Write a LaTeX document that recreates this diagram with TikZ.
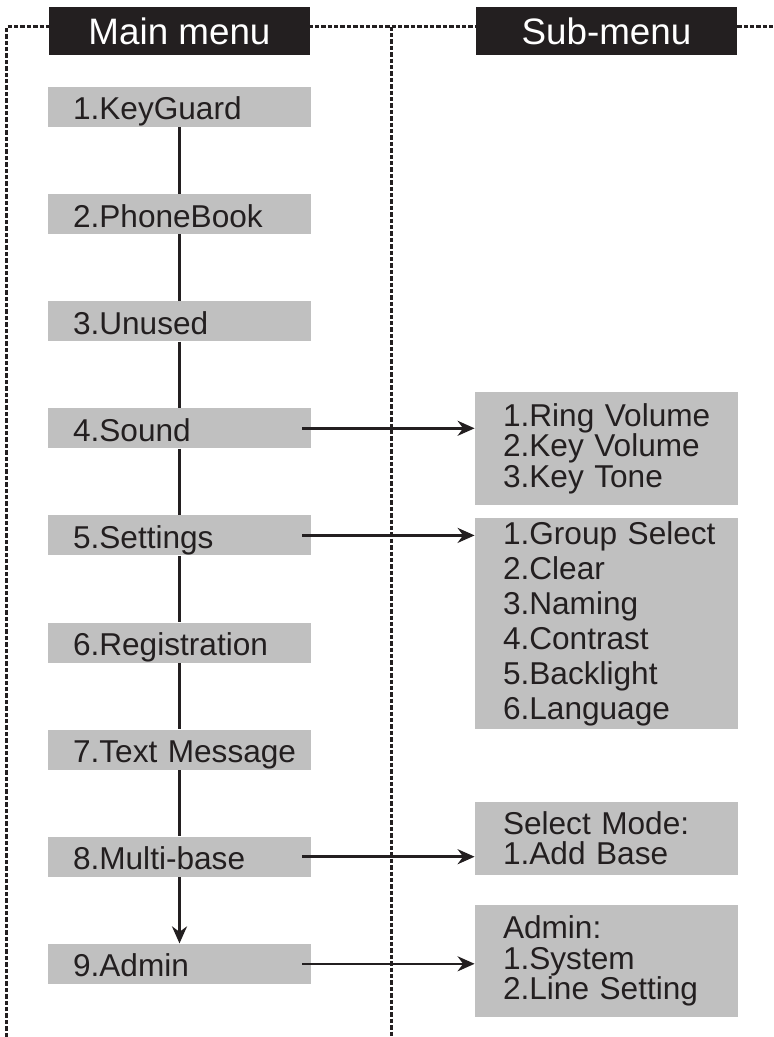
\documentclass[tikz,border=0pt]{standalone}
\usepackage{fontspec}
\setmainfont{Liberation Sans}
\usetikzlibrary{arrows.meta}
\definecolor{boxgray}{RGB}{192,192,192}
\definecolor{ink}{RGB}{35,31,32}
\begin{document}
\begin{tikzpicture}[x=0.5pt,y=-0.5pt,>={Stealth[length=8.5pt,width=7.5pt]},
    frame/.style={ink,line width=1.4pt,dash pattern=on 2.2pt off 1pt},
    head/.style={fill=ink,text=white,minimum width=130.5pt,minimum height=24pt,inner sep=0pt,font=\fontsize{18.4pt}{22pt}\selectfont},
    mitem/.style={fill=boxgray,text=ink,text width=131.5pt,text height=13pt,text depth=0pt,minimum height=20pt,inner sep=0pt,align=left,execute at begin node={\leftskip=12.5pt},font=\fontsize{15.8pt}{19pt}\selectfont},
    sitem/.style={fill=boxgray,text=ink,text width=131.5pt,inner sep=0pt,align=left,execute at begin node={\leftskip=14pt},font=\fontsize{15.8pt}{#1}\selectfont},
    link/.style={ink,line width=1.3pt}]
\useasboundingbox (0,0) rectangle (773,1037);
    \draw[frame](6.7,1037)--(6.7,26.7)--(773,26.7);
    \draw[frame](391.7,26.7)--(391.7,1037);
\node[head](hm) at (179.5,31){Main menu};
\node[head](hs) at (606.5,31){Sub-menu};
\node[mitem](m1) at (179.5,107){1.KeyGuard};
\node[mitem](m2) at (179.5,214.1){2.PhoneBook};
\node[mitem](m3) at (179.5,321.2){3.Unused};
\node[mitem](m4) at (179.5,428.3){4.Sound};
\node[mitem](m5) at (179.5,535.4){5.Settings};
\node[mitem](m6) at (179.5,642.5){6.Registration};
\node[mitem](m7) at (179.5,749.6){7.Text Message};
\node[mitem](m8) at (179.5,856.7){8.Multi-base};
\node[mitem](m9) at (179.5,963.8){9.Admin};
\node[sitem=15.25pt,minimum height=56.5pt](sA) at (606.5,448.5){1.Ring Volume\\2.Key Volume\\3.Key Tone};
\node[sitem=17.5pt,minimum height=105.5pt](sB) at (606.5,623.5){1.Group Select\\2.Clear\\3.Naming\\4.Contrast\\5.Backlight\\6.Language};
\node[sitem=15pt,minimum height=36.5pt](sC) at (606.5,838.5){Select Mode:\\1.Add Base};
\node[sitem=15.25pt,minimum height=56pt](sD) at (606.5,961){Admin:\\1.System\\2.Line Setting};
    \draw[link](m1)--(m2);
    \draw[link](m2)--(m3);
    \draw[link](m3)--(m4);
    \draw[link](m4)--(m5);
    \draw[link](m5)--(m6);
    \draw[link](m6)--(m7);
    \draw[link](m7)--(m8);
    \draw[link,->](m8)--(m9);
    \draw[link,->]([xshift=-4.5pt]m4.east)--(m4.east-|sA.west);
    \draw[link,->]([xshift=-4.5pt]m5.east)--(m5.east-|sB.west);
    \draw[link,->]([xshift=-4.5pt]m8.east)--(m8.east-|sC.west);
    \draw[link,->]([xshift=-4.5pt]m9.east)--(m9.east-|sD.west);
\end{tikzpicture}
\end{document}
